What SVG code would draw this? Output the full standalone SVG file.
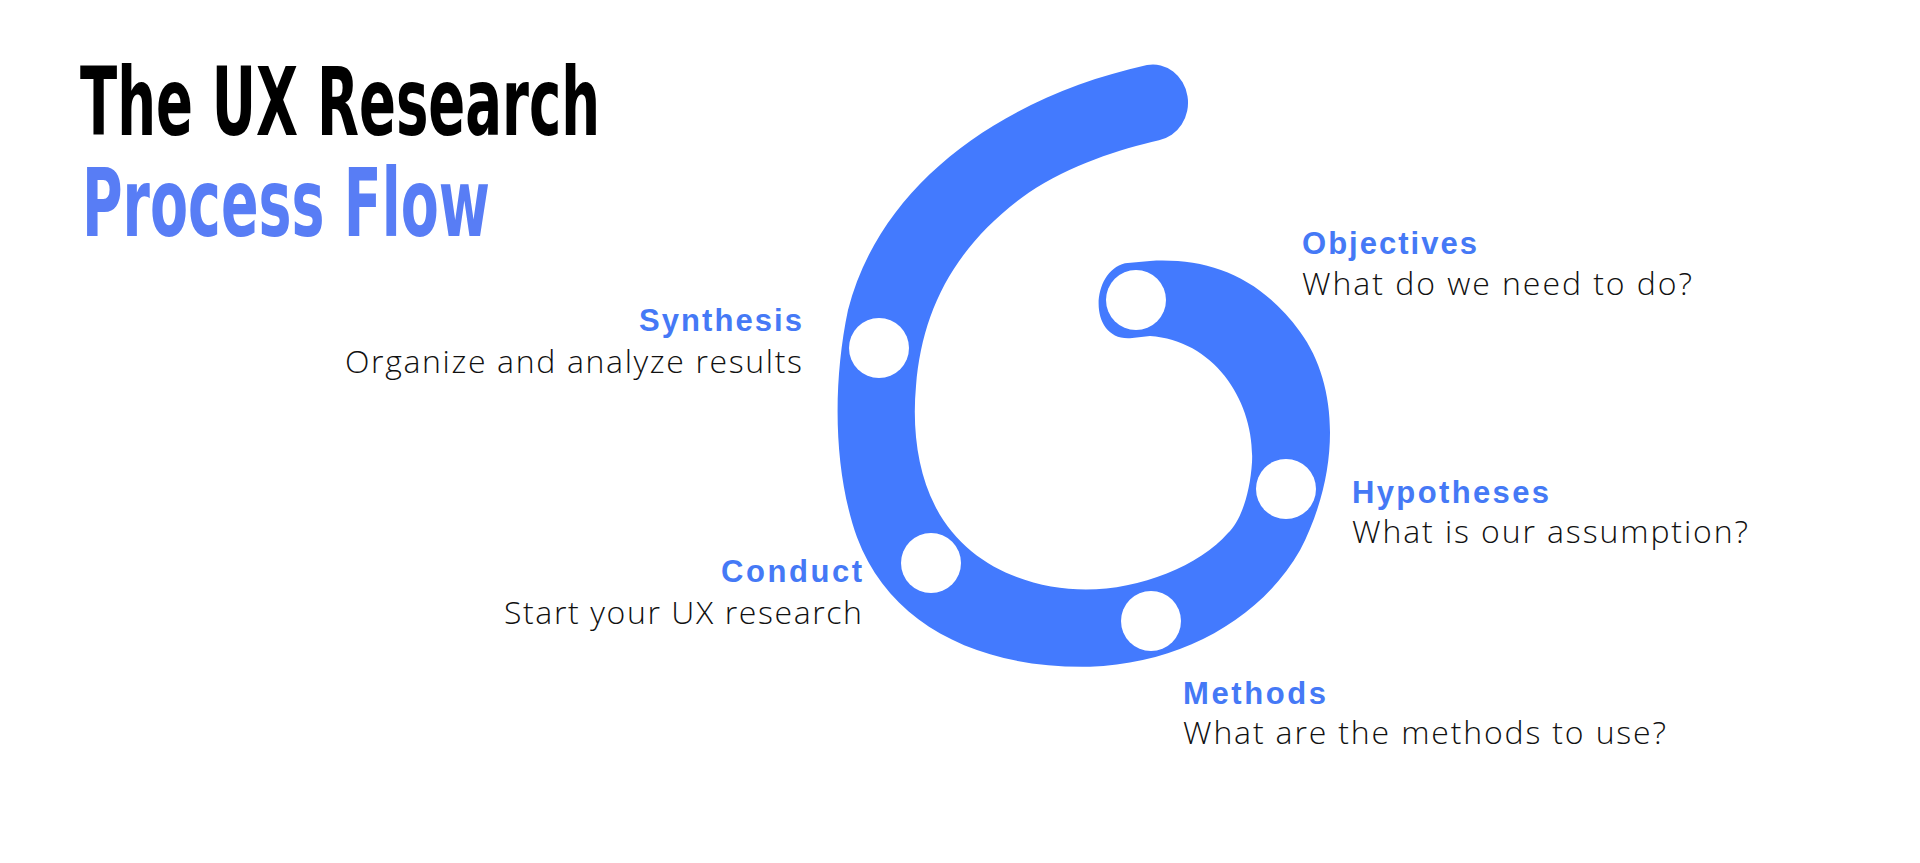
<svg xmlns="http://www.w3.org/2000/svg" width="1920" height="863" viewBox="0 0 1920 863">
<style>
.title{font-family:"DejaVu Sans Condensed","Liberation Sans",sans-serif;font-weight:bold;font-size:94px;}
.h{font-family:"Liberation Sans",Arial,sans-serif;font-weight:bold;font-size:31px;fill:#4579F6;}
.s{font-family:"Open Sans","Liberation Sans",sans-serif;font-weight:300;font-size:32px;fill:#111;}
.dot{fill:#fff;}
</style>
<rect width="1920" height="863" fill="#fff"/>
<g id="title">
<text class="title" x="80" y="135" textLength="520" lengthAdjust="spacingAndGlyphs" fill="#000">The UX Research</text>
<text class="title" x="82" y="236" textLength="408" lengthAdjust="spacingAndGlyphs" fill="#587DF5">Process Flow</text>
</g>
<g id="connectors">
<path id="spiral" fill="#437AFE" transform="translate(0,-5.6) scale(1,1.088)" d="M1147,65 C1000,95 880,175 848,290 C832,360 834,440 857,499 C890,580 980,620 1090,618 C1180,615 1260,575 1300,511 C1340,440 1340,360 1300,310 C1260,260 1210,242 1150,245 L1125,247 C1090,255 1088,318 1130,316 L1150,314 C1215,318 1255,375 1252,430 C1250,460 1240,485 1228,495 C1200,525 1140,547 1086,547 C1030,547 965,525 935,470 C918,440 912,400 916,360 C922,290 955,230 1029,182 C1070,157 1120,142 1159,134 A35,35 0 0 0 1147,65 Z"/>
</g>
<g id="objectives"><circle class="dot" cx="1136" cy="300" r="30"/><text class="h" x="1302" y="254" textLength="175">Objectives</text><text class="s" x="1302" y="295" textLength="390">What do we need to do?</text></g>
<g id="hypotheses"><circle class="dot" cx="1286" cy="489" r="30"/><text class="h" x="1352" y="503" textLength="197">Hypotheses</text><text class="s" x="1352" y="543" textLength="396">What is our assumption?</text></g>
<g id="methods"><circle class="dot" cx="1151" cy="621" r="30"/><text class="h" x="1183" y="704" textLength="143">Methods</text><text class="s" x="1183" y="744" textLength="483">What are the methods to use?</text></g>
<g id="conduct"><circle class="dot" cx="931" cy="563" r="30"/><text class="h" x="721" y="582" textLength="141">Conduct</text><text class="s" x="504" y="624" textLength="358">Start your UX research</text></g>
<g id="synthesis"><circle class="dot" cx="879" cy="348" r="30"/><text class="h" x="639" y="331" textLength="163">Synthesis</text><text class="s" x="345" y="373" textLength="457">Organize and analyze results</text></g>
</svg>
